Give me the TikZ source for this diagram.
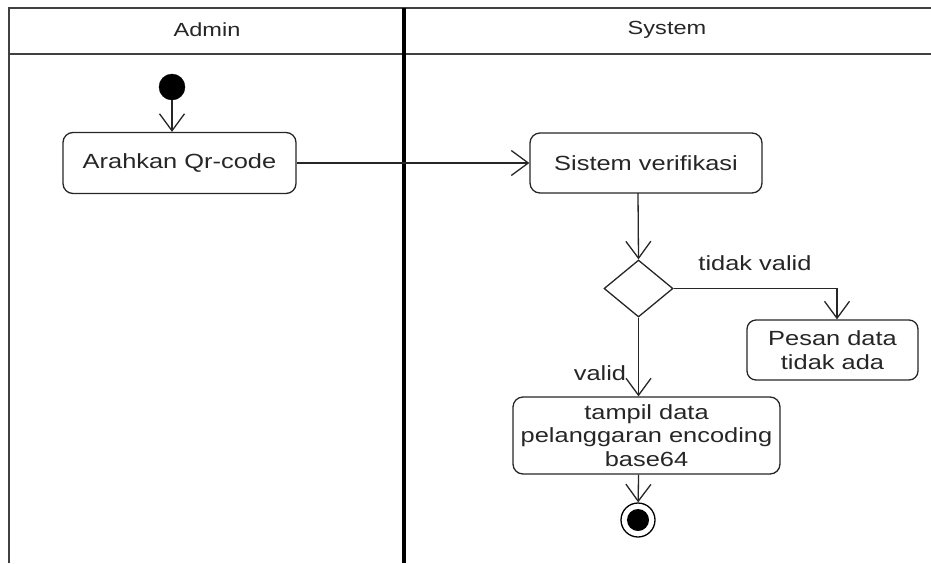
\documentclass[tikz,border=0pt]{standalone}
\usepackage{fontspec}
\setmainfont[FakeStretch=1.24]{Liberation Sans}
\usetikzlibrary{arrows.meta,shapes.geometric}
\begin{document}
\begin{tikzpicture}[x=1pt,y=-1pt,
  lane/.style={draw=black!75,line width=2pt},
  divider/.style={draw=black,line width=3.2pt},
  action/.style={draw=black!85,line width=1.3pt,rounded corners=10pt,align=center,
    font=\fontsize{20.5}{23.5}\selectfont,text=black!85,inner sep=0pt},
  decision/.style={draw=black!85,line width=1.3pt,diamond,inner sep=0pt,
    minimum width=69pt,minimum height=57pt},
  flow/.style={draw=black!85,line width=1.3pt,
    -{Straight Barb[length=17pt,width=25pt,line width=1.3pt]}},
  lbl/.style={font=\fontsize{20.5}{23.5}\selectfont,text=black!85,inner sep=0pt},
  hdr/.style={font=\fontsize{19}{22}\selectfont,text=black!85,inner sep=0pt}]
\useasboundingbox (0,0) rectangle (931,563);

% swimlane frame
\draw[lane] (9.3,563) -- (9.3,7.7) -- (931,7.7);
\draw[lane,line width=1.6pt] (9.3,54) -- (931,54);
\draw[divider] (404,7.7) -- (404,563);
\node[hdr] (hAdmin) at (207,30) {Admin};
\node[hdr] (hSystem) at (667,30) {System};

% initial and final states
\node[circle,fill=black,draw=black,minimum size=26pt,inner sep=0pt] (start) at (172,87) {};
\node[circle,draw=black,line width=1.3pt,minimum size=34pt,inner sep=0pt] (end) at (638,520) {};
\node[circle,fill=black,minimum size=22pt,inner sep=0pt] (endin) at (638,520) {};

% actions
\node[action,minimum width=233pt,minimum height=61pt] (arah) at (179.5,163) {Arahkan Qr-code};
\node[action,minimum width=232pt,minimum height=60pt] (verif) at (646,163) {Sistem verifikasi};
\node[decision] (dec) at (638.5,288.5) {};
\node[action,minimum width=171pt,minimum height=60pt,rounded corners=9pt] (pesan) at (832.5,350) {Pesan data\\tidak ada};
\node[action,minimum width=267pt,minimum height=77pt] (tampil) at (646.5,435.5) {tampil data\\pelanggaran encoding\\base64};

% connectors
\coordinate (vtop) at (638,193);
\draw[flow] (start) -- (start |- arah.north);
\draw[flow] (arah) -- (verif);
\draw[flow] (vtop) -- (dec.north);
\draw[flow] (dec.east) -| (pesan.north -| 837,0);
\draw[flow] (dec.south) -- (dec.south |- tampil.north);
\draw[flow] (dec.south |- tampil.south) -- (end);

% guard labels
\node[lbl] (tv) at (755,263) {tidak valid};
\node[lbl] (vl) at (600,373) {valid};
\end{tikzpicture}
\end{document}
